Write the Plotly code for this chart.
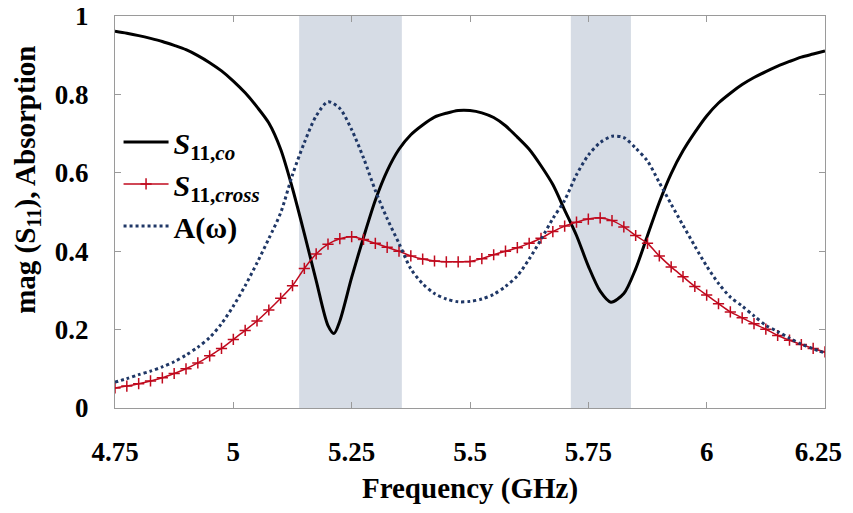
import plotly.graph_objects as go

# ---- data ----
freq = [4.75, 4.775, 4.8, 4.825, 4.85, 4.875, 4.9, 4.925, 4.95, 4.975,
        5.0, 5.025, 5.05, 5.075, 5.1, 5.125, 5.15, 5.175, 5.2, 5.225,
        5.25, 5.275, 5.3, 5.325, 5.35, 5.375, 5.4, 5.425, 5.45, 5.475,
        5.5, 5.525, 5.55, 5.575, 5.6, 5.625, 5.65, 5.675, 5.7, 5.725,
        5.75, 5.775, 5.8, 5.825, 5.85, 5.875, 5.9, 5.925, 5.95, 5.975,
        6.0, 6.025, 6.05, 6.075, 6.1, 6.125, 6.15, 6.175, 6.2, 6.225, 6.25]

freq_co = [4.75, 4.775, 4.8, 4.825, 4.85, 4.875, 4.9, 4.925, 4.95, 4.975,
           5.0, 5.025, 5.05, 5.075, 5.1, 5.125, 5.15, 5.175, 5.2, 5.2125, 5.225,
           5.25, 5.275, 5.3, 5.325, 5.35, 5.375, 5.4, 5.425, 5.45, 5.475,
           5.5, 5.525, 5.55, 5.575, 5.6, 5.625, 5.65, 5.675, 5.7, 5.725,
           5.75, 5.775, 5.7975, 5.825, 5.85, 5.875, 5.9, 5.925, 5.95, 5.975,
           6.0, 6.025, 6.05, 6.075, 6.1, 6.125, 6.15, 6.175, 6.2, 6.225, 6.25]

s11_co = [0.961, 0.956, 0.950, 0.943, 0.935, 0.925, 0.914, 0.899, 0.881, 0.860,
          0.834, 0.804, 0.768, 0.727, 0.660, 0.560, 0.445, 0.325, 0.210, 0.190, 0.222,
          0.333, 0.435, 0.530, 0.605, 0.660, 0.697, 0.722, 0.742, 0.752, 0.759,
          0.759, 0.753, 0.741, 0.720, 0.691, 0.660, 0.618, 0.570, 0.505, 0.440,
          0.362, 0.298, 0.270, 0.292, 0.355, 0.440, 0.525, 0.598, 0.656, 0.703,
          0.745, 0.778, 0.803, 0.825, 0.843, 0.858, 0.872, 0.884, 0.895, 0.903, 0.911]

s11_cross = [0.051, 0.056, 0.062, 0.069, 0.077, 0.088, 0.100, 0.115, 0.133, 0.152,
             0.175, 0.198, 0.222, 0.250, 0.280, 0.312, 0.356, 0.393, 0.418, 0.432,
             0.437, 0.430, 0.420, 0.410, 0.400, 0.388, 0.380, 0.375, 0.373, 0.373,
             0.374, 0.381, 0.391, 0.400, 0.409, 0.420, 0.433, 0.450, 0.464, 0.474,
             0.482, 0.485, 0.478, 0.462, 0.440, 0.420, 0.388, 0.360, 0.335, 0.310,
             0.288, 0.266, 0.245, 0.230, 0.215, 0.201, 0.185, 0.173, 0.162, 0.152, 0.143]

absorption = [0.066, 0.075, 0.085, 0.094, 0.105, 0.118, 0.135, 0.155, 0.180, 0.215,
              0.260, 0.312, 0.370, 0.432, 0.498, 0.595, 0.677, 0.745, 0.781, 0.764,
              0.710, 0.638, 0.555, 0.483, 0.420, 0.355, 0.317, 0.292, 0.278, 0.271,
              0.272, 0.278, 0.290, 0.310, 0.337, 0.380, 0.430, 0.483, 0.530, 0.595,
              0.645, 0.677, 0.693, 0.690, 0.663, 0.630, 0.575, 0.520, 0.466, 0.413,
              0.362, 0.318, 0.283, 0.260, 0.235, 0.211, 0.195, 0.178, 0.163, 0.151, 0.140]

band_start = [5.139, 5.713]
band_end = [5.356, 5.840]

x_ticks = [4.75, 5.0, 5.25, 5.5, 5.75, 6.0, 6.25]
x_ticktext = ["4.75", "5", "5.25", "5.5", "5.75", "6", "6.25\u00a0\u00a0"]
y_ticks = [0, 0.2, 0.4, 0.6, 0.8, 1.0]
y_ticktext = ["0", "0.2", "0.4", "0.6", "0.8", "1"]

SERIF = "Liberation Serif"

fig = go.Figure()

fig.add_trace(go.Scatter(
    x=freq_co, y=s11_co, mode="lines",
    name="<i>S</i><sub>11,<i>co</i></sub>",
    line=dict(color="black", width=3, shape="spline", smoothing=0.8),
))
fig.add_trace(go.Scatter(
    x=freq, y=s11_cross, mode="lines+markers",
    name="<i>S</i><sub>11,<i>cross</i></sub>",
    line=dict(color="#c00a1e", width=1.5, shape="spline", smoothing=0.8),
    marker=dict(symbol="cross-thin", size=8, line=dict(color="#c00a1e", width=1.5)),
))
fig.add_trace(go.Scatter(
    x=freq, y=absorption, mode="lines",
    name="A(ω)",
    line=dict(color="#1f3766", width=3, dash="dot", shape="spline", smoothing=0.8),
))

for a, b in zip(band_start, band_end):
    fig.add_vrect(x0=a, x1=b, fillcolor="#d6dce5", opacity=1, line_width=0, layer="below")

axis_common = dict(
    showline=True, linecolor="#9a9a9a", linewidth=1, mirror="ticks",
    ticks="inside", ticklen=6, tickcolor="#9a9a9a", showgrid=False, zeroline=False,
    automargin=False, ticklabeloverflow="allow",
    tickfont=dict(family=SERIF, size=27, color="black", weight="bold"),
)

fig.update_xaxes(
    range=[4.75, 6.25], tickvals=x_ticks, ticktext=x_ticktext,
    ticklabelstandoff=20,
    title=dict(text="Frequency (GHz)", font=dict(family=SERIF, size=29, color="black", weight="bold"), standoff=12),
    **axis_common,
)
fig.update_yaxes(
    range=[0, 1], tickvals=y_ticks, ticktext=y_ticktext,
    ticklabelstandoff=20,
    **axis_common,
)

fig.add_annotation(
    text="mag (S<sub>11</sub>), Absorption", textangle=-90,
    xref="paper", yref="paper", x=-0.124, y=0.582,
    xanchor="center", yanchor="middle", showarrow=False,
    font=dict(family=SERIF, size=29, color="black", weight="bold"),
)

fig.update_layout(
    width=837, height=497,
    margin=dict(l=107, r=20, t=8, b=97),
    plot_bgcolor="white", paper_bgcolor="white",
    showlegend=True,
    legend=dict(
        x=0.005, y=0.745, xanchor="left", yanchor="top",
        bgcolor="rgba(0,0,0,0)",
        font=dict(family=SERIF, size=30, color="black", weight="bold"),
        itemwidth=45, tracegroupgap=0,
    ),
)

fig.write_html("out.html")
